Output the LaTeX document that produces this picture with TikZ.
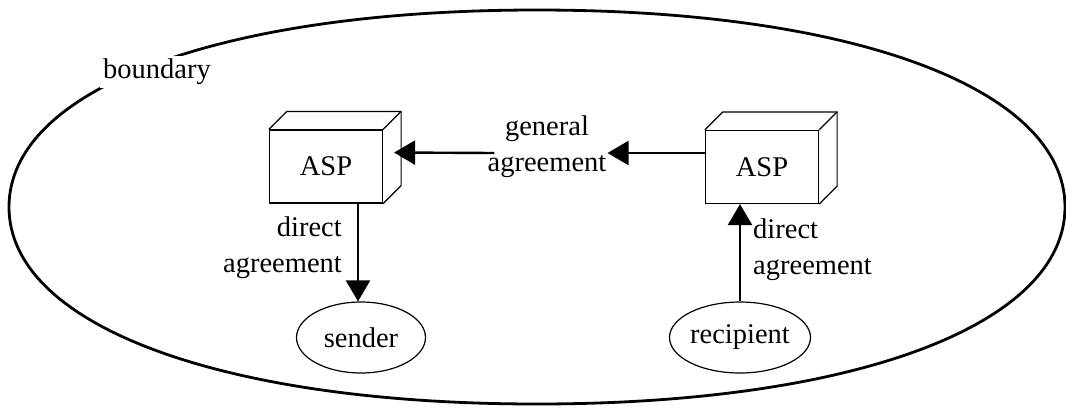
\documentclass[tikz,border=0pt]{standalone}
\usepackage{fontspec}
\setmainfont{Liberation Serif}
\usetikzlibrary{arrows.meta,shapes.geometric,calc}
\begin{document}
\begin{tikzpicture}[x=1pt,y=-1pt,
  every node/.style={font=\fontsize{28.5}{36}\selectfont, inner sep=1pt},
  asp/.style={draw, line width=1.2pt, minimum width=113pt, minimum height=73pt, inner sep=0pt},
  cube/.style={line width=1.2pt, line join=miter},
  party/.style={draw, ellipse, line width=1.2pt, minimum width=129pt, minimum height=71pt, inner sep=0pt},
  arr/.style={line width=2.4pt, -{Triangle[length=21pt,width=24pt]}},
  rim/.style={line width=2.8pt}
]
\useasboundingbox (0,0) rectangle (1066,416);

% outer boundary (slightly fuller than a true ellipse)
\draw[rim] (1065,207)
  .. controls (1065,88.8) and (853.8,10) .. (537,10)
  .. controls (220.2,10) and (9,88.8) .. (9,207)
  .. controls (9,325.2) and (220.2,404) .. (537,404)
  .. controls (853.8,404) and (1065,325.2) .. (1065,207);
\node[fill=white, inner sep=3pt] (bnd) at (157,72) {boundary};

% access service providers drawn as boxes
\node[asp] (lasp) at (326,166.5) {ASP};
\node[asp] (rasp) at (762,167) {ASP};
\foreach \b in {lasp,rasp} {
  \draw[cube] (\b.north west) -- ++(18,-18) -- ($(\b.north east)+(18,-18)$)
    -- ($(\b.south east)+(18,-18)$) -- (\b.south east);
  \draw[cube] (\b.north east) -- ++(18,-18);
}

% end parties
\node[party] (sender) at (361,337.5) {sender};
\node[party] (recipient) at (740,337.5) {recipient};

% agreements
\node[align=center] (gen) at (547,147) {general\\agreement};
\coordinate (gr) at ($(rasp.west)+(0,-14)$);
\draw[arr] (gr) -- (gr -| gen.east);
\draw[arr] ($(gr -| gen.west)+(8,0)$) -- ($(lasp.east)+(11,-14)$);

\node[align=right, anchor=east] (dl) at (343,248) {direct\\agreement};
\coordinate (ls) at ($(lasp.south)+(32,0)$);
\draw[arr] (ls) -- (ls |- sender.north);

\node[align=left, anchor=west] (dr) at (752,250) {direct\\agreement};
\draw[arr] (recipient.north) -- (recipient.north |- rasp.south);
\end{tikzpicture}
\end{document}
